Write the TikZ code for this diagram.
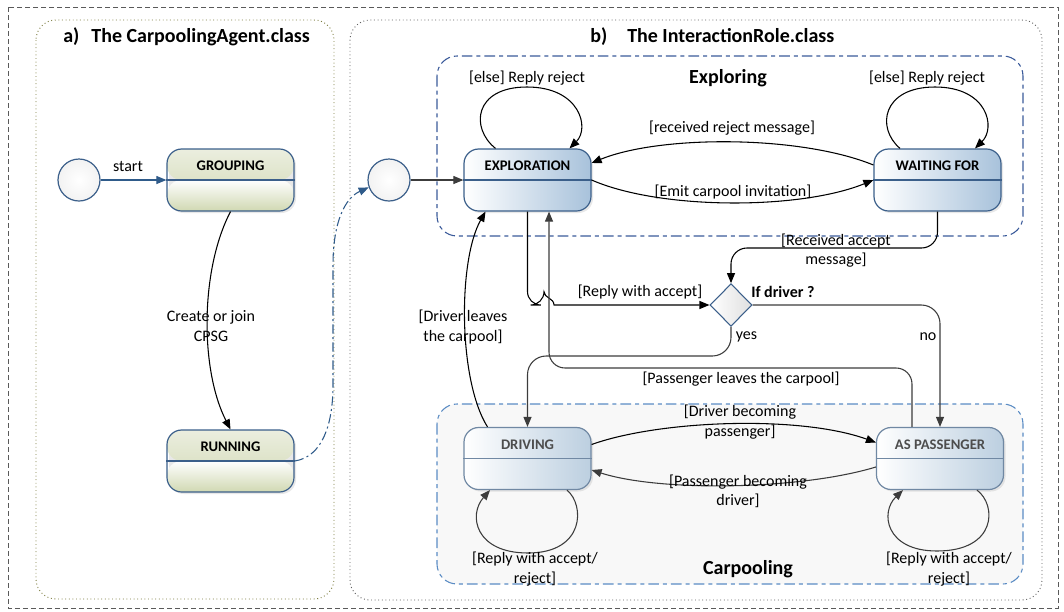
\documentclass[tikz,border=0pt]{standalone}
\usepackage{fontspec}
\setmainfont{Carlito}
\usetikzlibrary{arrows.meta,shapes.geometric,calc,shadows}
\definecolor{bdr}{HTML}{3B5F8A}
\definecolor{bdrC}{HTML}{7088A3}
\definecolor{olA}{HTML}{EBEEDF}
\definecolor{olB}{HTML}{D0D8B2}
\definecolor{expB}{HTML}{A8C2DB}
\definecolor{drvB}{HTML}{BCCFE0}
\definecolor{grpEc}{HTML}{3A5A9A}
\definecolor{grpCc}{HTML}{5B8CC4}
\definecolor{grpCfill}{HTML}{F8F8F8}
\definecolor{panAc}{HTML}{7C7C40}
\definecolor{panBc}{HTML}{606060}
\definecolor{outc}{HTML}{5A5A5A}
\definecolor{arrGc}{HTML}{3C3C3C}
\definecolor{runc}{HTML}{2F5B8A}
\definecolor{drvtxt}{HTML}{4D4D4D}
\begin{document}
\begin{tikzpicture}[x=0.75pt,y=-0.75pt,
 lbl/.style={font=\fontsize{12}{14.5}\selectfont, align=center, inner sep=0pt},
 ttl/.style={font=\fontsize{15}{18}\selectfont\bfseries, inner sep=0pt},
 stt/.style={font=\fontsize{11}{13}\selectfont\bfseries, inner sep=0pt},
 box/.style={rectangle, rounded corners=11pt, minimum width=95.25pt, minimum height=46.5pt, draw=bdr, line width=0.9pt, drop shadow={shadow xshift=1.5pt, shadow yshift=-1.5pt, opacity=0.18}},
 stA/.style={box, path picture={
   \shade[top color=olA, bottom color=olB] (path picture bounding box.north west) rectangle (path picture bounding box.east);
   \shade[top color=white, bottom color=olB] (path picture bounding box.west) rectangle (path picture bounding box.south east);}},
 stB/.style={box, left color=white, right color=expB},
 stC/.style={box, draw=bdrC, left color=white, right color=drvB},
 div/.style={draw=bdr, line width=0.9pt},
 divC/.style={draw=bdrC, line width=0.9pt},
 circ/.style={circle, minimum size=31.5pt, inner sep=0pt, draw=bdr, line width=0.9pt, inner color=white, outer color=gray!10},
 dia/.style={diamond, minimum width=31.5pt, minimum height=32pt, inner sep=0pt, draw=bdr, line width=0.8pt, left color=white, right color=gray!25},
 arr/.style={-{Triangle[length=7.5pt,width=6pt]}, line width=0.8pt, draw=black},
 arrG/.style={arr, draw=arrGc},
 arrDB/.style={arr, draw=runc},
]
\useasboundingbox (0,0) rectangle (1064,611);

% frames
\draw[outc, line width=0.7pt, dash pattern=on 4pt off 2pt] (8,7) rectangle (1058,608);
\draw[panAc, line width=0.7pt, dotted, rounded corners=15pt] (36,20) rectangle (334,599);
\draw[panBc, line width=0.7pt, dotted, rounded corners=15pt] (350,20) rectangle (1042,600);
\draw[grpEc, line width=0.8pt, dash pattern=on 8pt off 3pt on 3pt off 3pt, rounded corners=15pt] (437,56) rectangle (1023,236);
\draw[grpCc, fill=grpCfill, line width=0.8pt, dash pattern=on 8pt off 3pt on 3pt off 3pt, rounded corners=15pt] (437,404) rectangle (1023,584);

% titles
\node[ttl, anchor=west] (ta) at (63,37) {a)\hspace{9pt}The CarpoolingAgent.class};
\node[ttl, anchor=west] (tb) at (590,37) {b)\hspace{15pt}The InteractionRole.class};
\node[ttl] (te) at (728,78) {Exploring};
\node[ttl] (tc) at (748,569) {Carpooling};

% states
\node[circ] (sa) at (79,180) {};
\node[stA] (g) at (230.5,180) {};
\draw[div] (g.west) -- (g.east);
\node[stt] (gt) at ($(g.center)+(0,-14)$) {GROUPING};
\node[stA] (r) at (230.5,461) {};
\draw[div] (r.west) -- (r.east);
\node[stt] (rt) at ($(r.center)+(0,-14)$) {RUNNING};

\node[circ] (sb) at (389,180) {};
\node[stB] (e) at (527.5,180) {};
\draw[div] (e.west) -- (e.east);
\node[stt] (et) at ($(e.center)+(0,-14)$) {EXPLORATION};
\node[stB] (w) at (937.5,180) {};
\draw[div] (w.west) -- (w.east);
\node[stt] (wt) at ($(w.center)+(0,-14)$) {WAITING FOR};

\node[stC] (dr) at (527.5,458.5) {};
\draw[divC] (dr.west) -- (dr.east);
\node[stt, text=drvtxt] (drt) at ($(dr.center)+(0,-14)$) {DRIVING};
\node[stC] (ap) at (940,458.5) {};
\draw[divC] (ap.west) -- (ap.east);
\node[stt, text=drvtxt] (apt) at ($(ap.center)+(0,-14)$) {AS PASSENGER};

\node[dia] (d) at (731,305) {};
\node[font=\fontsize{12}{14}\selectfont\bfseries, anchor=west, inner sep=0pt] (dt) at (751,292) {If driver ?};

% connectors panel a
\draw[arrDB] (sa) -- (g.west);
\node[lbl] (lstart) at (128,166) {start};
\draw[arr] (g.south) .. controls (200,270) and (200,370) .. (r.north);
\node[lbl] (lcreate) at (211,326) {Create or join\\CPSG};
\draw[runc, line width=0.8pt, dash pattern=on 7pt off 2.5pt on 1.5pt off 2.5pt, -{Triangle[length=7.5pt,width=6pt]}]
  (r.east) .. controls (322,457) and (333,425) .. (333,385) -- (333,265) .. controls (333,222) and (345,198) .. (sb.200);

% connectors panel b
\draw[arrG] (sb) -- (e.west);
\draw[arr] ($(e.north)+(-32,0)$) .. controls (470,128) and (474,87) .. (527,87) .. controls (580,87) and (590,128) .. ($(e.north)+(42,0)$);
\node[lbl] (l1) at (527,78) {[else] Reply reject};
\draw[arr] ($(w.north)+(-37.5,0)$) .. controls (876,128) and (882,87) .. (935,87) .. controls (988,87) and (996,128) .. ($(w.north)+(37.5,0)$);
\node[lbl] (l2) at (927,78) {[else] Reply reject};

\draw[arr] ($(w.west)+(0,-15)$) .. controls (800,135) and (660,135) .. ($(e.east)+(0,-17)$);
\node[lbl] (l3) at (732,128) {[received reject message]};
\draw[arr] (e.east) .. controls (660,210) and (800,210) .. (w.west);
\node[lbl] (l4) at (733,192) {[Emit carpool invitation]};

\draw[arr, rounded corners=12pt] (w.south) -- (937.5,248) -- (731,248) -- (d.north);
\node[lbl] (l5) at (836,250.5) {[Received accept\\message]};

\draw[arr] (e.south) [rounded corners=10pt] -- (527.5,305) -- (544,305) [sharp corners] .. controls (544,298) and (554,298) .. (554,305) -- (d.west);
\node[lbl] (l6) at (640,292) {[Reply with accept]};

\draw[arrG, rounded corners=12pt] ($(ap.north)+(-28,0)$) -- (912,368) -- (549,368) -- ($(e.south)+(21.5,0)$);
\node[lbl] (l7) at (741,379) {[Passenger leaves the carpool]};

\draw[arrG, rounded corners=14pt] (d.south) -- (731,356) -- (527.5,356) -- (dr.north);
\node[lbl] (lyes) at (746.5,337) {yes};
\draw[arrG, rounded corners=14pt] (d.east) -- (940,305) -- (ap.north);
\node[lbl] (lno) at (928,337) {no};

\draw[arr] ($(dr.north)+(-40,0)$) .. controls (458,380) and (458,260) .. ($(e.south)+(-42,0)$);
\node[lbl] (l8) at (463,327) {[Driver leaves\\the carpool]};

\draw[arr] ($(dr.east)+(0,-14)$) .. controls (660,420) and (800,415) .. ($(ap.west)+(0,-16)$);
\node[lbl] (l9) at (740,422) {[Driver becoming\\passenger]};
\draw[arrG] ($(ap.west)+(0,8.5)$) .. controls (800,490) and (660,492) .. ($(dr.east)+(0,11.5)$);
\node[lbl] (l10) at (738,491) {[Passenger becoming\\driver]};

\draw[arrG] ($(dr.south)+(39.5,0)$) .. controls (585,505) and (585,553) .. (528,553) .. controls (475,553) and (468,515) .. ($(dr.south)+(-37.5,0)$);
\node[lbl] (l11) at (535,569) {[Reply with accept/\\reject]};
\draw[arrG] ($(ap.south)+(37,0)$) .. controls (997,505) and (997,551) .. (937,551) .. controls (885,551) and (880,512) .. ($(ap.south)+(-37,0)$);
\node[lbl] (l12) at (949,569) {[Reply with accept/\\reject]};
\end{tikzpicture}
\end{document}
